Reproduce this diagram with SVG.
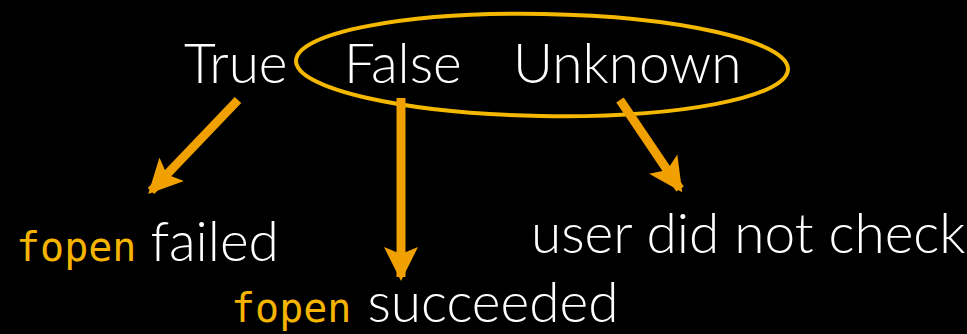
<svg xmlns="http://www.w3.org/2000/svg" width="967" height="334" viewBox="0 0 967 334">
<style>
.t{font-family:Lato,"Open Sans",sans-serif;fill:#fff;font-size:55px;font-weight:300}
.m{font-family:"DejaVu Sans Mono","Liberation Mono",monospace;fill:#f5b400;font-size:40px}
.a{stroke:#f0a000;stroke-width:9;fill:none}
</style>
<defs>
<marker id="ah" markerUnits="userSpaceOnUse" markerWidth="40" markerHeight="40" refX="30" refY="17" orient="auto" viewBox="0 0 40 34">
<path d="M0,0 L34,17 L0,34 L7,17 Z" fill="#f0a000"/>
</marker>
</defs>
<rect width="967" height="334" fill="#000"/>
<g id="true"><text class="t" x="184" y="83">True</text></g>
<g id="false"><text class="t" x="344" y="83">False</text></g>
<g id="unknown"><text class="t" x="513" y="83">Unknown</text></g>
<g id="group-ellipse"><ellipse cx="542" cy="65" rx="246" ry="51" fill="none" stroke="#f5b800" stroke-width="4" transform="rotate(1 542 65)"/></g>
<g id="failed"><text x="16" y="261"><tspan class="m">fopen</tspan><tspan class="t" dx="14">failed</tspan></text></g>
<g id="succeeded"><text x="231" y="322"><tspan class="m">fopen</tspan><tspan class="t" dx="16">succeeded</tspan></text></g>
<g id="unchecked"><text class="t" x="531" y="253">user did not check</text></g>
<g id="connectors">
<line class="a" x1="238" y1="100" x2="151" y2="191" marker-end="url(#ah)"/>
<line class="a" x1="401" y1="98" x2="401" y2="277" marker-end="url(#ah)"/>
<line class="a" x1="620" y1="100" x2="680" y2="189" marker-end="url(#ah)"/>
</g>
</svg>
